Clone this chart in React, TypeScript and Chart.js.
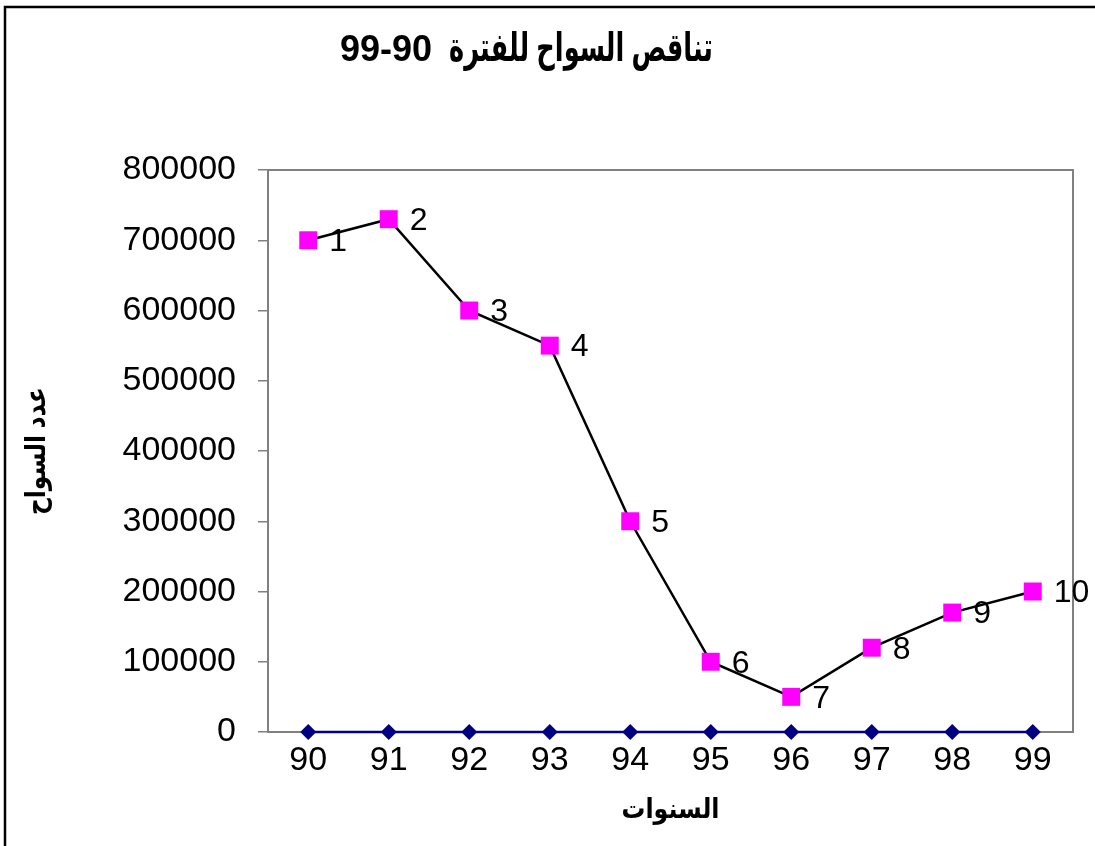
import React, { useEffect, useRef } from "react";
import { Chart, registerables } from "chart.js";

Chart.register(...registerables);

const years = ["90", "91", "92", "93", "94", "95", "96", "97", "98", "99"];
const tourists = [700000, 730000, 600000, 550000, 300000, 100000, 50000, 120000, 170000, 200000];
const baseline = [0, 0, 0, 0, 0, 0, 0, 0, 0, 0];
const pointLabels = ["1", "2", "3", "4", "5", "6", "7", "8", "9", "10"];
const yTicks = [0, 100000, 200000, 300000, 400000, 500000, 600000, 700000, 800000];

const titleWords = "تناقص السواح للفترة";
const titlePeriod = "99-90";
const yTitleText = "عدد السواح";
const xTitleText = "السنوات";

const FONT = '"Liberation Sans", Arial, "DejaVu Sans", sans-serif';

const decorPlugin = {
  id: "decor",
  beforeDraw(chart: any) {
    const ctx = chart.ctx;
    ctx.save();
    ctx.fillStyle = "#ffffff";
    ctx.fillRect(0, 0, chart.width, chart.height);
    ctx.strokeStyle = "#000000";
    ctx.lineWidth = 2.5;
    ctx.beginPath();
    ctx.moveTo(5, chart.height + 5);
    ctx.lineTo(5, 7);
    ctx.lineTo(chart.width + 5, 7);
    ctx.stroke();
    ctx.restore();
  },
  beforeDatasetsDraw(chart: any) {
    const ctx = chart.ctx;
    const area = chart.chartArea;
    ctx.save();
    ctx.strokeStyle = "#808080";
    ctx.lineWidth = 2;
    ctx.strokeRect(area.left, area.top, area.right - area.left, area.bottom - area.top);
    ctx.restore();
  },
  afterDatasetsDraw(chart: any) {
    const ctx = chart.ctx;
    const area = chart.chartArea;
    ctx.save();
    const meta = chart.getDatasetMeta(0);
    ctx.fillStyle = "#000000";
    ctx.font = `32px ${FONT}`;
    ctx.textAlign = "left";
    ctx.textBaseline = "middle";
    meta.data.forEach((pt: any, i: number) => {
      ctx.fillText(pointLabels[i], pt.x + 21, pt.y + 2);
    });

    const xs = chart.scales.x;
    ctx.textAlign = "center";
    ctx.font = `34px ${FONT}`;
    years.forEach((y, i) => {
      ctx.fillText(y, xs.getPixelForValue(i), area.bottom + 29);
    });

    // title: period (left) + Arabic words (right)
    ctx.font = `bold 36px ${FONT}`;
    ctx.textAlign = "left";
    ctx.fillText(titlePeriod, 340, 51);
    ctx.direction = "rtl";
    ctx.textAlign = "right";
    ctx.font = `bold 40px ${FONT}`;
    ctx.fillText(titleWords, 713, 50, 264);

    ctx.textAlign = "center";
    ctx.font = `bold 28px ${FONT}`;
    ctx.fillText(xTitleText, (area.left + area.right) / 2, 810, 98);

    ctx.translate(37, (area.top + area.bottom) / 2);
    ctx.rotate(-Math.PI / 2);
    ctx.fillText(yTitleText, 0, 0, 128);
    ctx.restore();
  },
};

export default function App() {
  const ref = useRef<HTMLCanvasElement | null>(null);
  useEffect(() => {
    if (!ref.current) return;
    const chart = new Chart(ref.current, {
      type: "line",
      data: {
        labels: years,
        datasets: [
          {
            data: tourists,
            borderColor: "#000000",
            borderWidth: 2.5,
            tension: 0,
            clip: false,
            pointStyle: "rect",
            pointRadius: 12.7,
            pointBackgroundColor: "#FF00FF",
            pointBorderColor: "#FF00FF",
            pointBorderWidth: 0,
          },
          {
            data: baseline,
            borderColor: "#000080",
            borderWidth: 2.5,
            tension: 0,
            clip: false,
            pointStyle: "rectRot",
            pointRadius: 8,
            pointBackgroundColor: "#000080",
            pointBorderColor: "#000080",
            pointBorderWidth: 0,
          },
        ],
      },
      options: {
        responsive: false,
        animation: false,
        devicePixelRatio: 1,
        layout: { padding: { top: 170, right: 22, left: 0, bottom: 0 } },
        plugins: {
          legend: { display: false },
          title: { display: false },
          tooltip: { enabled: false },
        },
        scales: {
          x: {
            type: "category",
            offset: true,
            grid: { display: false },
            border: { display: false },
            ticks: { display: false },
            afterFit(scale: any) {
              scale.height = 114;
            },
          },
          y: {
            min: 0,
            max: 800000,
            afterBuildTicks(scale: any) {
              scale.ticks = yTicks.map((v) => ({ value: v }));
            },
            grid: {
              display: true,
              drawOnChartArea: false,
              drawTicks: true,
              tickLength: 10,
              color: "#808080",
              lineWidth: 1.5,
            },
            border: { display: true, color: "#808080", width: 2 },
            ticks: {
              padding: 22,
              color: "#000000",
              font: { family: FONT, size: 34 },
              callback: (v: any) => String(v),
            },
            afterFit(scale: any) {
              scale.width = 268;
            },
          },
        },
      },
      plugins: [decorPlugin],
    } as any);
    return () => chart.destroy();
  }, []);
  return (
    <div style={{ position: "absolute", left: 0, top: 0, width: 1095, height: 846, background: "#fff" }}>
      <canvas ref={ref} width={1095} height={846} style={{ display: "block" }} />
    </div>
  );
}
